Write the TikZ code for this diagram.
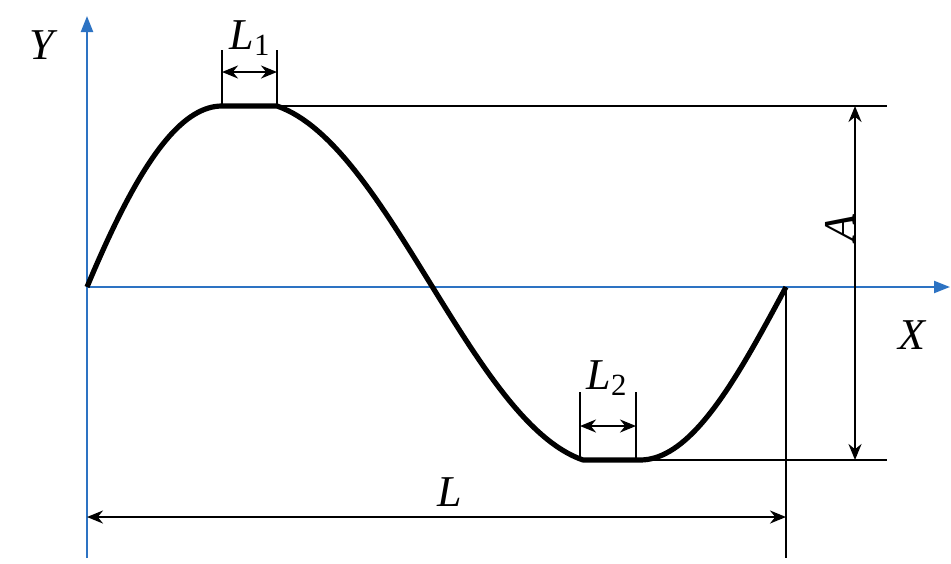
\documentclass[tikz,border=0pt]{standalone}
\usepackage{fontspec}
\setmainfont{Liberation Serif}
\newfontfamily\lblfont{Liberation Serif}
\usetikzlibrary{arrows.meta}
\definecolor{axisblue}{RGB}{45,115,195}
\begin{document}
\begin{tikzpicture}[x=0.5pt,y=-0.5pt,
		lbl/.style={font=\lblfont\fontsize{22}{26}\selectfont\itshape},
		axis/.style={axisblue,line width=1.1pt,-{Triangle[length=8pt,width=6pt]}},
		guide/.style={line width=1pt},
		dim/.style={line width=1.1pt,{Stealth[length=8pt,width=6.5pt]}-{Stealth[length=8pt,width=6.5pt]}},
		wave/.style={line width=2.6pt,line join=round}]
	\useasboundingbox (0,0) rectangle (951,563);
	
	\coordinate (o) at (87,287);
	\coordinate (ytop) at (87,16);
	\coordinate (ybot) at (87,558);
	\coordinate (xend) at (950,287);
	\coordinate (p1) at (222,106);
	\coordinate (p2) at (277,106);
	\coordinate (q1) at (583,460);
	\coordinate (q2) at (640,460);
	\coordinate (e) at (786,287);
	\coordinate (ebot) at (786,558);
	\coordinate (atop) at (887,106);
	\coordinate (abot) at (887,460);
	
	\draw[axis] (ybot) -- (ytop);
	\draw[axis] (o) -- (xend);
	
	\draw[guide] (p2) -- (atop);
	\draw[guide] (q2) -- (abot);
	\draw[guide] (e) -- (ebot);
	
	\draw[wave] plot[domain=0:1,samples=40] ({87+135*\x},{287-181*(0.5*sin(90*\x)+0.5*(1-(1-\x)^2))}) -- (p2)
		-- plot[domain=0:1,samples=60] ({277+306*\x},{106+354*(0.35*(1-cos(180*\x))+0.3*\x)}) -- (q2)
		-- plot[domain=0:1,samples=40] ({640+146*\x},{460-173*(1-cos(90*\x))});
	
	% L1
	\coordinate (l1a) at (222,50);
	\coordinate (l1b) at (277,50);
	\draw[guide] (l1a) -- (p1);
	\draw[guide] (l1b) -- (p2);
	\coordinate (l1l) at (222,72);
	\coordinate (l1r) at (277,72);
	\draw[dim] (l1l) -- (l1r);
	\node[lbl] (l1) at (250,38) {L\textsubscript{\upshape 1}};
	
	% L2
	\coordinate (l2a) at (580,392);
	\coordinate (l2b) at (636,392);
	\coordinate (l2c) at (580,460);
	\coordinate (l2d) at (636,460);
	\draw[guide] (l2a) -- (l2c);
	\draw[guide] (l2b) -- (l2d);
	\coordinate (l2l) at (580,426);
	\coordinate (l2r) at (636,426);
	\draw[dim] (l2l) -- (l2r);
	\node[lbl] (l2) at (607,378) {L\textsubscript{\upshape 2}};
	
	% A and L
	\coordinate (a1) at (855,106);
	\coordinate (a2) at (855,460);
	\draw[dim] (a1) -- (a2);
	\node[lbl,rotate=90] (amp) at (840,228) {A};
	\coordinate (lleft) at (87,517);
	\coordinate (lright) at (786,517);
	\draw[dim] (lleft) -- (lright);
	\node[lbl] (len) at (450,492) {L};
	
	\node[lbl] (ylab) at (42,45) {Y};
	\node[lbl] (xlab) at (912,335) {X};
\end{tikzpicture}
\end{document}
